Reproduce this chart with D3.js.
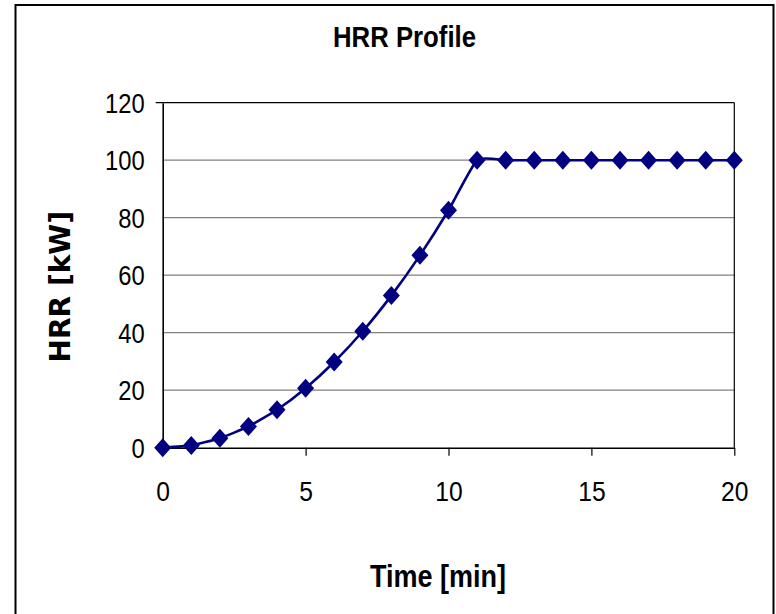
<!DOCTYPE html>
<html>
<head>
<meta charset="utf-8">
<script src="https://cdn.jsdelivr.net/npm/d3@7"></script>
<style>
  html, body { margin: 0; padding: 0; background: #fff; }
  svg { display: block; }
</style>
</head>
<body>
<script>
// ---- data ----
const timeMin = [0,1,2,3,4,5,6,7,8,9,10,11,12,13,14,15,16,17,18,19,20];
const hrrKW   = [0,0.8,3.3,7.4,13.2,20.7,29.8,40.5,52.9,66.9,82.6,100,100,100,100,100,100,100,100,100,100];
const xTicks = [0,5,10,15,20];
const yTicks = [0,20,40,60,80,100,120];
const titleText = "HRR Profile";
const xTitle = "Time [min]";
const yTitle = "HRR [kW]";

(function () {
const W = 776, H = 614;
const svg = d3.select("body").append("svg").attr("width", W).attr("height", H);

// outer chart border
svg.append("rect").attr("x", 15.5).attr("y", 5).attr("width", 758).attr("height", 630)
  .attr("fill", "#fff").attr("stroke", "#000").attr("stroke-width", 2);

const pLeft = 162.7, pRight = 734.3, pTop = 102.7, pBottom = 447.7;
const x = d3.scaleLinear().domain([0, 20]).range([pLeft, pRight]);
const y = d3.scaleLinear().domain([0, 120]).range([pBottom, pTop]);
const sx = 0.88;

// gridlines
svg.append("g").selectAll("line").data(yTicks.filter(v => v > 0 && v < 120)).join("line")
  .attr("x1", pLeft).attr("x2", pRight).attr("y1", d => y(d)).attr("y2", d => y(d))
  .attr("stroke", "#808080").attr("stroke-width", 1.2);

// plot area border top & right
svg.append("line").attr("x1", pLeft - 7).attr("x2", pRight).attr("y1", pTop).attr("y2", pTop)
  .attr("stroke", "#000").attr("stroke-width", 1.2);
svg.append("line").attr("x1", pRight).attr("x2", pRight).attr("y1", pTop).attr("y2", pBottom)
  .attr("stroke", "#000").attr("stroke-width", 1.2);

// x axis
const xAxis = svg.append("g").attr("transform", `translate(0,${pBottom})`)
  .call(d3.axisBottom(x).tickValues(xTicks).tickSize(8).tickPadding(26).tickSizeOuter(0));
xAxis.select(".domain").attr("stroke", "#000").attr("stroke-width", 1.6);
xAxis.selectAll(".tick line").attr("stroke", "#000").attr("stroke-width", 1.2);
xAxis.selectAll(".tick text").attr("font-family", "'Liberation Sans', Arial, sans-serif")
  .attr("font-size", 28).attr("fill", "#000").attr("dy", "0.71em").attr("y", 33.5)
  .attr("transform", `scale(${sx},1)`);

// y axis
const yAxis = svg.append("g").attr("transform", `translate(${pLeft},0)`)
  .call(d3.axisLeft(y).tickValues(yTicks).tickSize(0).tickPadding(18).tickSizeOuter(0));
yAxis.select(".domain").attr("stroke", "#000").attr("stroke-width", 1.6);
yAxis.selectAll(".tick text").attr("font-family", "'Liberation Sans', Arial, sans-serif")
  .attr("font-size", 27).attr("fill", "#000").attr("dy", "0.35em")
  .attr("x", -18 / sx).attr("transform", `scale(${sx},1)`);

// line
const pts = timeMin.map((t, i) => [t, hrrKW[i]]);
const line = d3.line().x(d => x(d[0])).y(d => y(d[1])).curve(d3.curveCardinal.tension(0.5));
svg.append("path").attr("d", line(pts)).attr("fill", "none")
  .attr("stroke", "#000080").attr("stroke-width", 2.6);

// markers
svg.append("g").selectAll("path").data(pts).join("path")
  .attr("transform", d => `translate(${x(d[0])},${y(d[1])})`)
  .attr("d", "M0,-9.5L8.5,0L0,9.5L-8.5,0Z").attr("fill", "#000080");

// title
svg.append("text").attr("x", 333).attr("y", 46.7)
  .attr("font-family", "'Liberation Sans', Arial, sans-serif").attr("font-weight", "bold")
  .attr("font-size", 30).attr("textLength", 143).attr("lengthAdjust", "spacingAndGlyphs")
  .text(titleText);

// x title
svg.append("text").attr("x", 370).attr("y", 586.7)
  .attr("font-family", "'Liberation Sans', Arial, sans-serif").attr("font-weight", "bold")
  .attr("font-size", 32).attr("textLength", 136).attr("lengthAdjust", "spacingAndGlyphs")
  .text(xTitle);

// y title
svg.append("text").attr("transform", "translate(70,286.7) rotate(-90)")
  .attr("text-anchor", "middle")
  .attr("font-family", "'DejaVu Sans', sans-serif").attr("font-weight", "bold")
  .attr("font-size", 28).attr("fill", "#000")
  .text(yTitle);
})();
</script>
</body>
</html>
